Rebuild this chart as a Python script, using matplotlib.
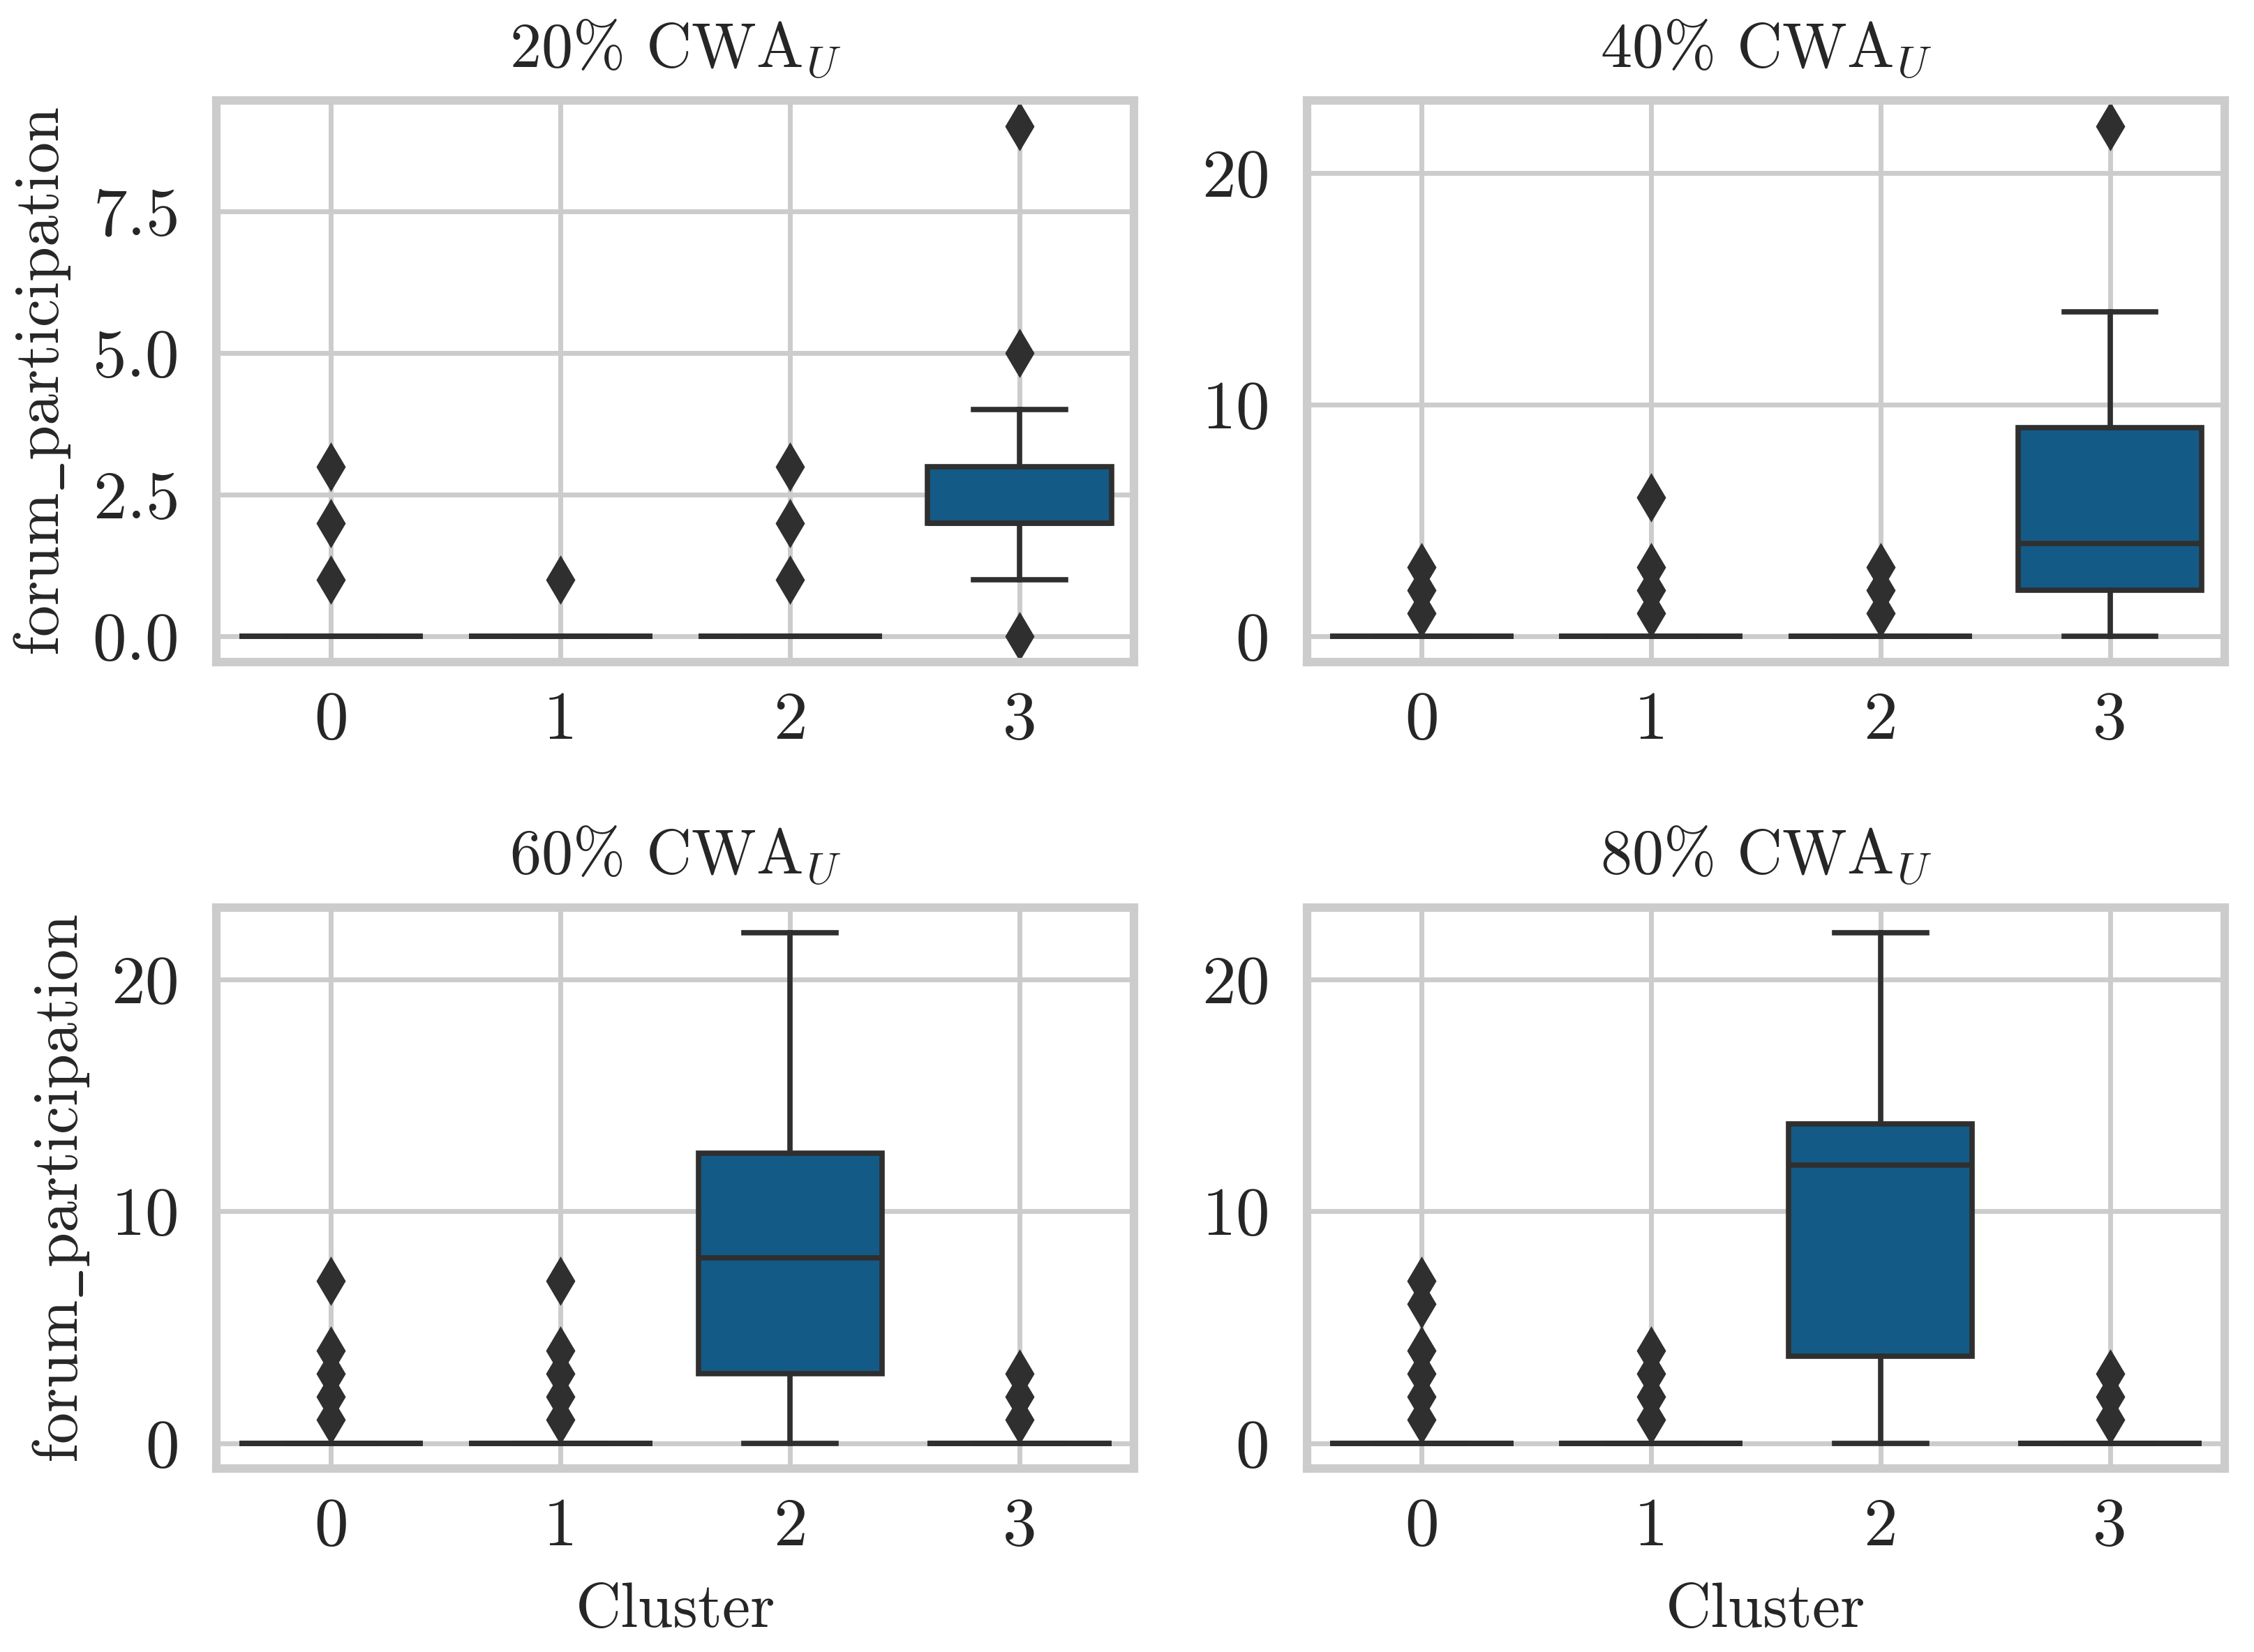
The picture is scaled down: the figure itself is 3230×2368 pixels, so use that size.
import matplotlib
matplotlib.use('Agg')
import matplotlib.pyplot as plt
from matplotlib.ticker import MultipleLocator

plt.rcParams['font.family'] = ['cmr10', 'DejaVu Serif']
plt.rcParams['mathtext.fontset'] = 'cm'
plt.rcParams['axes.formatter.use_mathtext'] = True

# box statistics (clusters 0..3)
clusters = [0, 1, 2, 3]
shares = ['20', '40', '60', '80']
y_steps = [2.5, 10, 10, 10]

q1 = {'20': [0, 0, 0, 2], '40': [0, 0, 0, 2], '60': [0, 0, 3, 0], '80': [0, 0, 3.75, 0]}
med = {'20': [0, 0, 0, 2], '40': [0, 0, 0, 4], '60': [0, 0, 8, 0], '80': [0, 0, 12, 0]}
q3 = {'20': [0, 0, 0, 3], '40': [0, 0, 0, 9], '60': [0, 0, 12.5, 0], '80': [0, 0, 13.75, 0]}
whislo = {'20': [0, 0, 0, 1], '40': [0, 0, 0, 0], '60': [0, 0, 0, 0], '80': [0, 0, 0, 0]}
whishi = {'20': [0, 0, 0, 4], '40': [0, 0, 0, 14], '60': [0, 0, 22, 0], '80': [0, 0, 22, 0]}
fliers = {
    '20': [[1, 2, 3], [1], [1, 2, 3], [0, 5, 9]],
    '40': [[1, 2, 3], [1, 2, 3, 6], [1, 2, 3], [22]],
    '60': [[1, 2, 3, 4, 7], [1, 2, 3, 4, 7], [], [1, 2, 3]],
    '80': [[1, 2, 3, 4, 6, 7], [1, 2, 3, 4], [], [1, 2, 3]],
}

box_color = '#145a86'
line_color = '#2f2f2f'
grid_color = '#cccccc'
text_color = '#262626'
tick_fs = 28
label_fs = 26
lw = 2.2

fig, axes = plt.subplots(2, 2, figsize=(12.92, 9.472), dpi=250)
plt.subplots_adjust(left=0.096, right=0.987, top=0.939, bottom=0.111,
                    wspace=0.188, hspace=0.437)

for ax, s, step in zip(axes.flat, shares, y_steps):
    stats = []
    for i, c in enumerate(clusters):
        stats.append({'q1': q1[s][i], 'med': med[s][i], 'q3': q3[s][i],
                      'whislo': whislo[s][i], 'whishi': whishi[s][i],
                      'fliers': fliers[s][i], 'label': str(c)})
    ax.bxp(stats, positions=clusters, widths=0.8, patch_artist=True,
           boxprops=dict(facecolor=box_color, edgecolor=line_color, linewidth=lw),
           medianprops=dict(color=line_color, linewidth=lw),
           whiskerprops=dict(color=line_color, linewidth=lw),
           capprops=dict(color=line_color, linewidth=lw),
           flierprops=dict(marker='d', markersize=13, markerfacecolor=line_color,
                           markeredgecolor=line_color, linestyle='none'))
    ax.set_xlim(-0.5, 3.5)
    ax.yaxis.set_major_locator(MultipleLocator(step))
    ax.grid(True, color=grid_color, linewidth=2.0)
    ax.set_axisbelow(True)
    for sp in ax.spines.values():
        sp.set_color(grid_color)
        sp.set_linewidth(3.5)
    ax.tick_params(length=0, labelsize=tick_fs, colors=text_color)
    ax.tick_params(axis='x', pad=12)
    ax.tick_params(axis='y', pad=16)
    ax.set_title(s + r'% CWA$_U$', fontsize=label_fs, pad=14, color=text_color)

for ax in axes[:, 0]:
    ax.set_ylabel(r'$\mathrm{forum\_participation}$', fontsize=label_fs,
                  color=text_color, labelpad=8)
for ax in axes[1, :]:
    ax.set_xlabel('Cluster', fontsize=label_fs, color=text_color, labelpad=10)

fig.savefig('out.png', dpi=250)
